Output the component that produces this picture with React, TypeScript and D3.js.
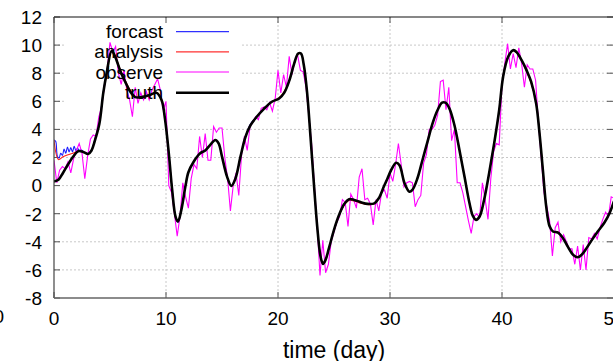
import React from "react";
import * as d3 from "d3";

const W = 613;
const H = 361;

// ---- data ----
const xTicks = [0, 10, 20, 30, 40, 50];
const yTicks = [-8, -6, -4, -2, 0, 2, 4, 6, 8, 10, 12];
const legendLabels = ["forcast", "analysis", "observe", "truth"];

const truthDays = [
  0, 0.4, 0.8, 1.25, 1.7, 2.15, 2.6, 3.05, 3.35, 3.65,
  4.05, 4.4, 4.7, 5.15, 5.45, 5.9, 6.35, 6.8, 7.25, 7.8,
  8.55, 9.15, 9.6, 9.9, 10.25, 10.55, 10.85, 11.07, 11.37, 11.73,
  12.0, 12.47, 13.05, 13.5, 13.95, 14.4, 14.7, 15.0, 15.45, 15.83,
  16.2, 16.65, 17.1, 17.55, 18.1, 18.7, 19.45, 20.1, 20.55, 21.0,
  21.45, 21.8, 22.05, 22.3, 22.6, 22.9, 23.2, 23.5, 23.8, 24.02,
  24.25, 24.55, 25.0, 25.45, 25.9, 26.35, 26.8, 27.4, 28.0, 28.6,
  29.0, 29.45, 29.8, 30.1, 30.55, 30.85, 31.3, 31.73, 32.0, 32.45,
  32.9, 33.35, 33.8, 34.25, 34.65, 34.95, 35.3, 35.75, 36.2, 36.65,
  37.1, 37.4, 37.68, 38.0, 38.4, 38.85, 39.3, 39.75, 40.1, 40.55,
  41.0, 41.3, 41.75, 42.2, 42.6, 43.05, 43.35, 43.65, 43.95, 44.25,
  44.55, 45.0, 45.45, 45.9, 46.35, 46.75, 47.1, 47.55, 48.0, 48.55,
  49.15, 49.6, 50.0,
];

const truthValues = [
  0.3, 0.42, 0.9, 1.5, 2.05, 2.45, 2.4, 2.25, 2.5, 3.2,
  4.4, 6.6, 8.0, 9.6, 9.2, 8.2, 7.4, 6.7, 6.3, 6.3,
  6.45, 6.6, 6.1, 4.8, 2.3, -0.3, -2.2, -2.56, -1.73, -0.07,
  0.95, 1.7, 2.3, 2.5, 2.9, 3.25, 3.0, 2.06, 0.64, -0.02,
  0.5, 2.06, 3.48, 4.3, 4.9, 5.43, 5.97, 6.2, 6.6, 7.45,
  8.7, 9.4, 9.4, 8.6, 6.6, 3.5, 0.2, -2.9, -5.05, -5.57,
  -5.28, -4.45, -3.15, -2.1, -1.33, -0.97, -1.02, -1.18, -1.3, -1.26,
  -0.9, -0.07, 0.55, 1.1, 1.63, 1.45, 0.17, -0.43, -0.3, 0.52,
  1.82, 3.13, 4.43, 5.38, 5.9, 5.9, 5.5, 4.31, 2.54, 0.64,
  -1.26, -2.16, -2.44, -2.2, -1.02, 0.88, 3.0, 5.38, 7.75, 9.17,
  9.64, 9.5, 8.93, 8.2, 7.4, 5.85, 3.72, 1.1, -1.5, -2.9,
  -3.27, -3.34, -3.74, -4.38, -4.93, -5.1, -4.93, -4.45, -3.9, -3.27,
  -2.63, -1.97, -1.1,
];

const analysisValues = [
  3.25, 1.85, 2.05, 2.2, 2.3, 2.45, 2.42, 2.25, 2.5, 3.25,
  4.45, 6.6, 8.05, 9.55, 9.25, 8.3, 7.5, 6.8, 6.35, 6.25,
  6.4, 6.65, 6.1, 4.8, 2.3, -0.3, -2.2, -2.5, -1.7, -0.07,
  0.95, 1.7, 2.3, 2.5, 2.9, 3.25, 3.0, 2.06, 0.64, -0.02,
  0.5, 2.06, 3.5, 4.35, 4.9, 5.45, 5.95, 6.25, 6.7, 7.45,
  8.7, 9.35, 9.4, 8.6, 6.6, 3.5, 0.2, -2.9, -5.0, -5.5,
  -5.28, -4.45, -3.2, -2.15, -1.4, -1.05, -1.1, -1.25, -1.35, -1.3,
  -0.9, -0.07, 0.55, 1.1, 1.6, 1.45, 0.17, -0.43, -0.3, 0.52,
  1.82, 3.13, 4.43, 5.38, 5.9, 5.9, 5.5, 4.31, 2.54, 0.64,
  -1.26, -2.1, -2.4, -2.2, -1.02, 0.88, 3.0, 5.38, 7.75, 9.2,
  9.6, 9.45, 8.9, 8.1, 7.3, 5.9, 3.8, 1.2, -1.45, -2.85,
  -3.25, -3.3, -3.74, -4.38, -4.9, -5.05, -4.9, -4.45, -3.9, -3.27,
  -2.63, -1.97, -1.1,
];

const forecastEarlyDays = [
  0, 0.15, 0.3, 0.45, 0.6, 0.75, 0.9, 1.05, 1.2, 1.35,
  1.5, 1.65, 1.8, 1.95, 2.1, 2.25, 2.4, 2.6, 2.8, 3.05,
];
const forecastDays = [...forecastEarlyDays, ...truthDays.slice(8)];
const forecastValues = [
  3.25, 3.15, 2.1, 1.95, 2.3, 2.15, 2.6, 2.3, 2.75, 2.4,
  2.7, 2.4, 2.8, 2.5, 2.65, 2.5, 2.55, 2.45, 2.35, 2.3,
  2.55, 3.3, 4.55, 6.7, 8.05, 9.6, 9.2, 8.25, 7.45, 6.75, 6.3, 6.3,
  6.45, 6.6, 6.1, 4.8, 2.3, -0.3, -2.2, -2.6, -1.75, -0.07,
  0.95, 1.7, 2.3, 2.5, 2.9, 3.25, 3.0, 2.06, 0.64, -0.02,
  0.5, 2.06, 3.5, 4.4, 4.9, 5.43, 5.97, 6.2, 6.6, 7.45,
  8.7, 9.4, 9.4, 8.6, 6.6, 3.5, 0.2, -2.9, -5.1, -5.6,
  -5.3, -4.45, -3.2, -2.15, -1.38, -1.0, -1.05, -1.2, -1.32, -1.28,
  -0.9, -0.07, 0.55, 1.1, 1.63, 1.45, 0.17, -0.43, -0.3, 0.52,
  1.82, 3.13, 4.43, 5.38, 5.9, 5.9, 5.5, 4.31, 2.54, 0.64,
  -1.26, -2.16, -2.44, -2.2, -1.02, 0.88, 3.0, 5.38, 7.75, 9.17,
  9.64, 9.5, 8.93, 8.2, 7.4, 5.85, 3.72, 1.1, -1.5, -2.9,
  -3.27, -3.34, -3.74, -4.38, -4.93, -5.1, -4.93, -4.45, -3.9, -3.27,
  -2.63, -1.97, -1.1,
];

const observeStep = 0.25;
const observeValues = [
  1.8, 0.2, 1.1, 1.35, 1.2, 1.7, 0.9, 1.9, 2.5, 3.0,
  2.3, 0.5, 2.1, 3.3, 3.6, 3.5, 4.9, 5.6, 7.0, 8.3,
  10.2, 9.5, 9.9, 8.0, 7.2, 8.2, 6.8, 6.1, 4.9, 7.0,
  5.85, 6.6, 6.1, 6.7, 6.1, 6.8, 7.2, 7.6, 6.8, 5.4,
  6.0, 0.0, -0.5, -2.0, -3.6, -2.2, 0.2, -0.8, -1.6, 0.5,
  1.5, 1.2, 3.5, 2.0, 3.7, 1.8, 1.8, 4.2, 3.8, 4.1,
  4.1, 2.0, 0.5, -1.8, 0.0, 0.9, -0.7, 2.2, 3.5, 2.5,
  4.2, 4.5, 4.9, 4.7, 5.5, 5.6, 5.4, 5.9, 5.3, 6.2,
  8.2, 6.6, 7.9, 7.0, 9.2, 7.9, 8.9, 9.3, 8.2, 8.1,
  7.0, 5.0, 3.0, 0.0, -2.9, -6.4, -3.9, -6.2, -5.6, -4.0,
  -3.3, -2.6, -2.2, -1.0, -1.2, -2.9, -0.6, -1.0, -1.6, 0.6,
  1.2, -1.0, -0.9, -1.3, -2.8, -1.0, -1.8, -0.5, -0.3, -0.9,
  0.9, 0.3, 1.5, 3.0, 1.5, -0.1, 0.2, 0.3, 0.2, -1.5,
  -1.0, -0.7, 1.6, 2.2, 4.0, 4.0, 4.3, 5.0, 7.4, 7.5,
  5.4, 7.0, 3.2, 4.0, 0.2, 0.2, -0.5, -1.5, -2.5, -3.4,
  -2.2, -2.0, -2.3, 0.2, -1.0, -2.4, 0.5, 2.4, 3.0, 2.9,
  7.2, 8.7, 10.1, 8.3, 9.4, 8.4, 9.8, 8.7, 7.0, 8.6,
  8.3, 8.3, 7.5, 4.5, 2.0, -0.5, -1.5, -2.5, -5.0, -3.0,
  -2.6, -4.0, -3.5, -4.0, -4.5, -4.5, -5.6, -4.3, -6.0, -4.2,
  -6.0, -3.7, -3.8, -3.4, -3.8, -3.0, -2.4, -1.9, -2.2, -0.8,
  -0.9,
];

// ---- layout ----
const X0 = 54;
const X1 = 614;
const Y0 = 17;
const Y1 = 298;

const FONT = "'Liberation Sans', Arial, Helvetica, sans-serif";

export default function App() {
  const x = d3.scaleLinear().domain([0, 50]).range([X0, X1]);
  const y = d3.scaleLinear().domain([-8, 12]).range([Y1, Y0]);

  const smooth = d3
    .line<[number, number]>()
    .x((d) => x(d[0]))
    .y((d) => y(d[1]))
    .curve(d3.curveCatmullRom.alpha(0.5));
  const straight = d3
    .line<[number, number]>()
    .x((d) => x(d[0]))
    .y((d) => y(d[1]));

  const truthPts = truthDays.map((t, i) => [t, truthValues[i]] as [number, number]);
  const analysisPts = truthDays.map((t, i) => [t, analysisValues[i]] as [number, number]);
  const forecastPts = forecastDays.map((t, i) => [t, forecastValues[i]] as [number, number]);
  const observePts = observeValues.map((v, i) => [i * observeStep, v] as [number, number]);

  const legendColors = ["#3030ff", "#ff3030", "#ff00ff", "#000000"];
  const legendWidths = [1.2, 1.2, 1.2, 2.6];
  const legendTextY = [38, 58.3, 78.6, 99];
  const legendLineY = [31.7, 51.8, 72, 92.8];

  return (
    <svg
      width={W}
      height={H}
      style={{ position: "absolute", left: 0, top: 0, background: "#fff" }}
      fontFamily={FONT}
    >
      <defs>
        <clipPath id="plotClip">
          <rect x={X0} y={Y0} width={X1 - X0} height={Y1 - Y0} />
        </clipPath>
      </defs>

      {/* grid */}
      {yTicks
        .filter((v) => v !== -8 && v !== 12)
        .map((v) => (
          <line
            key={"gy" + v}
            x1={X0}
            x2={X1}
            y1={y(v)}
            y2={y(v)}
            stroke="#c8c8c8"
            strokeWidth={1}
            strokeDasharray="2,2"
          />
        ))}
      {xTicks
        .filter((v) => v !== 0 && v !== 50)
        .map((v) => (
          <line
            key={"gx" + v}
            x1={x(v)}
            x2={x(v)}
            y1={Y0}
            y2={Y1}
            stroke="#c8c8c8"
            strokeWidth={1}
            strokeDasharray="2,2"
          />
        ))}

      {/* key area background */}
      <rect x={64} y={Y0 + 1} width={176} height={87} fill="#fff" />

      {/* ticks */}
      {yTicks.map((v) => (
        <g key={"ty" + v}>
          <line x1={X0} x2={X0 + 6} y1={y(v)} y2={y(v)} stroke="#555" />
          <line x1={X1} x2={X1 - 7} y1={y(v)} y2={y(v)} stroke="#555" />
          <text
            x={42}
            y={y(v) + 6.8}
            textAnchor="end"
            fontSize={19}
            fill="#000"
          >
            {v}
          </text>
        </g>
      ))}
      {xTicks.map((v) => (
        <g key={"tx" + v}>
          <line x1={x(v)} x2={x(v)} y1={Y0} y2={Y0 + 6} stroke="#555" />
          <line x1={x(v)} x2={x(v)} y1={Y1} y2={Y1 - 6} stroke="#555" />
          <text x={x(v)} y={325} textAnchor="middle" fontSize={19} fill="#000">
            {v}
          </text>
        </g>
      ))}

      {/* curves */}
      <g clipPath="url(#plotClip)" fill="none">
        <path d={smooth(forecastPts) || ""} stroke="#1a1aff" strokeWidth={1.1} />
        <path d={smooth(analysisPts) || ""} stroke="#ff2020" strokeWidth={1.1} />
        <path d={straight(observePts) || ""} stroke="#ff00ff" strokeWidth={1.1} />
        <path
          d={smooth(truthPts) || ""}
          stroke="#000"
          strokeWidth={2.6}
          strokeLinejoin="round"
        />
      </g>

      {/* border */}
      <line x1={X0} x2={X1} y1={Y0} y2={Y0} stroke="#111" strokeWidth={1.2} />
      <line x1={X0} x2={X0} y1={Y0} y2={Y1} stroke="#444" strokeWidth={1.2} />
      <line x1={X0} x2={X1} y1={Y1} y2={Y1} stroke="#666" strokeWidth={1.6} />

      {/* legend */}
      {legendLabels.map((lab, i) => (
        <g key={lab}>
          <text
            x={163}
            y={legendTextY[i]}
            textAnchor="end"
            fontSize={19}
            fill="#000"
          >
            {lab}
          </text>
          <line
            x1={176}
            x2={229}
            y1={legendLineY[i]}
            y2={legendLineY[i]}
            stroke={legendColors[i]}
            strokeWidth={legendWidths[i]}
          />
        </g>
      ))}

      {/* axis title */}
      <text x={334} y={358} textAnchor="middle" fontSize={23} fill="#000">
        time (day)
      </text>

      {/* clipped label from neighbouring panel */}
      <text x={4} y={323} textAnchor="end" fontSize={19} fill="#000">
        0
      </text>
    </svg>
  );
}
